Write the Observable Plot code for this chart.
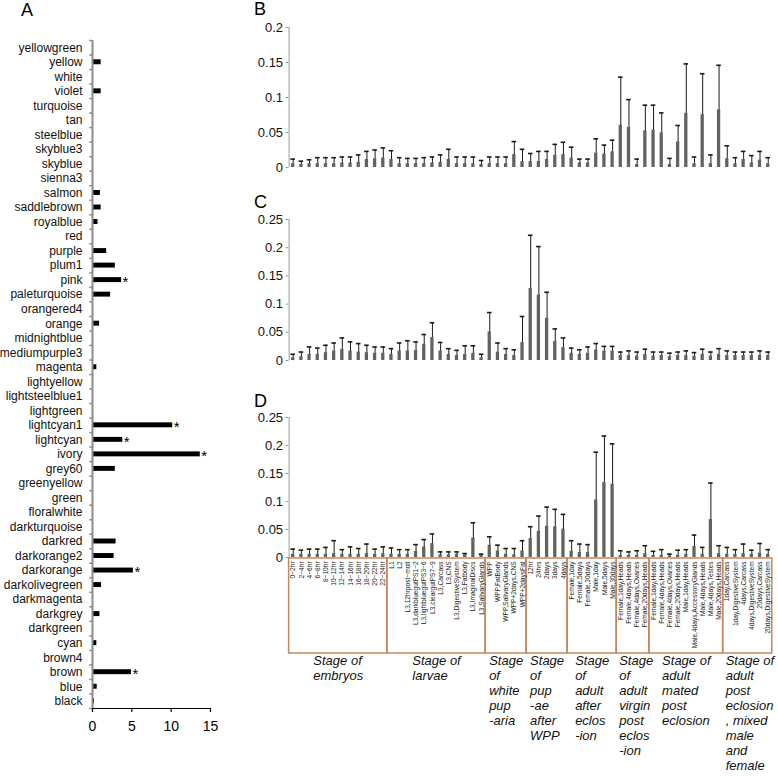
<!DOCTYPE html>
<html><head><meta charset="utf-8">
<script src="https://cdn.jsdelivr.net/npm/d3@7"></script>
<script src="https://cdn.jsdelivr.net/npm/@observablehq/plot@0.6"></script>
<style>
body{margin:0;background:#fff;font-family:"Liberation Sans",Arial,sans-serif;}
#wrap{position:relative;width:778px;height:776px;overflow:hidden;background:#fff;}
#wrap svg{position:absolute;}
.tag{position:absolute;font-size:18px;line-height:1;color:#000;}
</style></head><body><div id="wrap"></div>
<script>
// ---------- Panel A data ----------
const modules = ["yellowgreen","yellow","white","violet","turquoise","tan","steelblue","skyblue3","skyblue","sienna3","salmon","saddlebrown","royalblue","red","purple","plum1","pink","paleturquoise","orangered4","orange","midnightblue","mediumpurple3","magenta","lightyellow","lightsteelblue1","lightgreen","lightcyan1","lightcyan","ivory","grey60","greenyellow","green","floralwhite","darkturquoise","darkred","darkorange2","darkorange","darkolivegreen","darkmagenta","darkgrey","darkgreen","cyan","brown4","brown","blue","black"];
const moduleValues = [0,1.1,0,1.1,0,0,0,0,0,0,1.0,1.1,0.7,0,1.8,2.9,3.7,2.3,0,0.9,0,0,0.55,0,0,0,10.2,3.85,13.7,2.9,0,0,0,0,3.0,2.75,5.2,1.15,0,0.95,0,0.55,0,4.95,0.6,0.25];
const starredModules = ["pink","lightcyan1","lightcyan","ivory","darkorange","brown"];
const aTicks = [0,5,10,15];

// ---------- Panels B, C, D data ----------
const stageNames = ["Stage of\nembryos","Stage of\nlarvae","Stage\nof\nwhite\npup\n-aria","Stage\nof\npup\n-ae\nafter\nWPP","Stage\nof\nadult\nafter\neclos\n-ion","Stage\nof\nadult\nvirgin\npost\neclos\n-ion","Stage of\nadult\nmated\npost\neclosion","Stage of\nadult\npost\neclosion\n, mixed\nmale\nand\nfemale"];
const stageCounts = [12,12,5,5,6,4,9,6];
const sampleLabels = ["0~2hr","2~4hr","4~6hr","6~8hr","8~10hr","10~12hr","12~14hr","14~16hr","16~18hr","18~20hr","20~22hr","22~24hr",
 "L1","L2","L3,12hrpost~molt","L3,darkbluegutPS1~2","L3,lightbluegutPS3~6","L3,cleargutPS7~9","L3,Carcass","L3,CNS","L3,DigestiveSystem","L3,Fatbody","L3,ImaginalDiscs","L3,SalivaryGlands",
 "WPP","WPP,FatBody","WPP,SalivaryGlands","WPP+2days,CNS","WPP+2daysFat",
 "12hr","24hrs","2days","3days","4days",
 "Female,1day","Female,5days","Female,30days","Male,1day","Male,5days","Male,30days",
 "Female,1day,Heads","Female,4days,Heads","Female,4days,Ovaries","Female,20days,Heads",
 "Female,1day,Heads","Female,4days,Heads","Female,4days,Ovaries","Female,20days,Heads","Male,1day,Heads","Male,4days,AccessoryGlands","Male,4days,Heads","Male,4days,Testes","Male,20days,Heads",
 "1day,Carcass","1day,DigestiveSystem","4days,Carcass","4days,DigestiveSystem","20days,Carcass","20days,DigestiveSystem"];

const bMean  = [.004,.003,.004,.004,.004,.004,.005,.005,.006,.010,.011,.012,.010,.004,.004,.004,.004,.005,.006,.010,.004,.004,.004,.003,.004,.004,.004,.017,.007,.007,.007,.010,.016,.017,.012,.005,.005,.019,.018,.021,.059,.056,.003,.051,.052,.048,.003,.035,.076,.004,.074,.004,.081,.011,.004,.010,.005,.009,.004];
const bUpper = [.012,.009,.011,.014,.014,.014,.015,.015,.018,.023,.025,.028,.024,.014,.013,.013,.014,.015,.018,.026,.015,.015,.015,.010,.015,.015,.015,.037,.026,.020,.023,.023,.033,.036,.029,.012,.012,.041,.032,.039,.129,.097,.012,.089,.089,.078,.013,.060,.148,.015,.134,.018,.146,.031,.014,.023,.017,.023,.014];
const bTicks = [0,0.05,0.1,0.15,0.2];

const cMean  = [.003,.005,.009,.009,.012,.015,.018,.015,.013,.012,.011,.011,.009,.015,.015,.016,.027,.039,.015,.009,.007,.009,.011,.003,.049,.013,.009,.007,.030,.126,.114,.073,.032,.021,.011,.009,.011,.017,.015,.015,.007,.007,.006,.009,.006,.007,.005,.007,.007,.006,.009,.006,.009,.007,.007,.007,.007,.007,.007];
const cUpper = [.011,.015,.024,.022,.027,.031,.040,.033,.030,.027,.024,.024,.021,.031,.035,.033,.046,.067,.032,.021,.018,.026,.026,.011,.085,.031,.021,.019,.078,.222,.202,.121,.056,.040,.022,.019,.024,.030,.025,.025,.015,.017,.015,.020,.015,.015,.013,.015,.017,.014,.020,.015,.021,.017,.015,.015,.015,.017,.015];
const cTicks = [0,0.05,0.1,0.15,0.2,0.25];

const dMean  = [.004,.004,.004,.004,.004,.005,.004,.004,.004,.005,.004,.005,.004,.004,.004,.009,.017,.023,.003,.003,.004,.003,.033,.002,.020,.010,.004,.003,.010,.032,.045,.054,.053,.049,.009,.007,.007,.101,.132,.129,.002,.002,.002,.005,.002,.002,.001,.002,.004,.018,.004,.066,.005,.004,.004,.005,.004,.006,.004];
const dUpper = [.015,.013,.015,.015,.018,.030,.014,.019,.016,.024,.015,.019,.017,.014,.014,.023,.032,.042,.010,.010,.010,.007,.062,.006,.037,.022,.016,.016,.030,.055,.074,.090,.086,.077,.030,.024,.023,.188,.217,.203,.012,.010,.012,.021,.011,.014,.006,.013,.014,.040,.018,.133,.021,.018,.014,.024,.013,.025,.014];
const dTicks = [0,0.05,0.1,0.15,0.2,0.25];

// ---------- helpers ----------
const FONT = '"Liberation Sans", Arial, Helvetica, sans-serif';
const wrap = document.getElementById("wrap");
function place(el, left, top) { el.style.left = left + "px"; el.style.top = top + "px"; wrap.appendChild(el); return el; }
function tag(t, left, top) { const d = document.createElement("div"); d.className = "tag"; d.textContent = t; place(d, left, top); }

// ---------- Panel A ----------
{
  const n = modules.length;
  const idx = d3.range(n);
  const bounds = d3.range(n + 1).map(i => i - 0.5);
  const svg = Plot.plot({
    width: 230, height: 750, marginLeft: 92, marginRight: 20, marginTop: 40, marginBottom: 42,
    style: {fontFamily: FONT, fontSize: "12px", background: "transparent", overflow: "visible", color: "#000"},
    x: {domain: [0, 15], axis: null},
    y: {domain: [n - 0.5, -0.5], axis: null},
    marks: [
      Plot.rectX(idx, {x1: 0, x2: i => moduleValues[i], y1: i => i - 0.17, y2: i => i + 0.17, fill: "#000", insetLeft: 0.8}),
      Plot.ruleX([0], {y1: -0.5, y2: n - 0.5, stroke: "#8c8c8c", strokeWidth: 2}),
      Plot.ruleY(bounds, {x1: -0.35, x2: 0, stroke: "#8c8c8c", strokeWidth: 1.5}),
      Plot.text(idx, {x: 0, y: i => i, text: i => modules[i], textAnchor: "end", dx: -10, fontSize: 12, fill: "#111"}),
      Plot.text(starredModules, {x: m => moduleValues[modules.indexOf(m)], y: m => modules.indexOf(m), text: () => "*", textAnchor: "start", dx: 1, dy: 2, fontSize: 15}),
      Plot.ruleY([n - 0.5], {x1: 0, x2: 15, stroke: "#000", strokeWidth: 1.2}),
      Plot.axisX({ticks: aTicks, tickSize: 4, tickPadding: 9, fontSize: 14, stroke: "#000", strokeWidth: 1.2, anchor: "bottom"})
    ]
  });
  place(svg, 0, 0);
  tag("A", 21, 1);
}

// ---------- Panels B, C, D ----------
const PW = 548, ML = 58.6, MR = 6.2;
function barPanel(mean, upper, ticks, height, marginTop, marginBottom) {
  const n = mean.length;
  const idx = d3.range(n);
  const yMax = ticks[ticks.length - 1];
  return Plot.plot({
    width: PW, height, marginLeft: ML, marginRight: MR, marginTop, marginBottom,
    style: {fontFamily: FONT, fontSize: "13px", background: "transparent", overflow: "visible", color: "#000"},
    x: {domain: [-0.5, n - 0.5], axis: null},
    y: {domain: [0, yMax], axis: null},
    marks: [
      Plot.ruleX([-0.5], {y1: 0, y2: yMax, stroke: "#9a9a9a", strokeWidth: 1}),
      Plot.axisY({ticks, tickFormat: d => String(d), tickSize: 3, tickPadding: 3, stroke: "#9a9a9a", fill: "#111", fontSize: 13}),
      Plot.ruleX(idx, {x: i => i, y1: i => mean[i], y2: i => upper[i], stroke: "#1a1a1a", strokeWidth: 1}),
      Plot.ruleY(idx, {y: i => upper[i], x1: i => i - 0.28, x2: i => i + 0.28, stroke: "#1a1a1a", strokeWidth: 1.6}),
      Plot.rectY(idx, {x1: i => i - 0.2, x2: i => i + 0.2, y1: 0, y2: i => mean[i], fill: "#626262", insetTop: -1})
    ]
  });
}
place(barPanel(bMean, bUpper, bTicks, 175, 27, 8), 230, 0);
tag("B", 254, 0);
place(barPanel(cMean, cUpper, cTicks, 190, 39, 10), 230, 180);
tag("C", 254, 193);
place(barPanel(dMean, dUpper, dTicks, 185, 37, 8), 230, 380);
tag("D", 254, 392);

// ---------- Panel D sample / stage labels ----------
{
  const n = sampleLabels.length;
  const idx = d3.range(n);
  const starts = d3.cumsum([0, ...stageCounts]).slice(0, stageCounts.length);
  const groups = stageNames.map((label, k) => ({label, start: starts[k], end: starts[k] + stageCounts[k] - 1}));
  const pxPerIdx = (PW - ML - MR) / n;
  const ctx = document.createElement("canvas").getContext("2d");
  ctx.font = "italic 13px " + FONT;
  const blockLeft = g => {
    const w = d3.max(g.label.split("\n"), s => ctx.measureText(s).width);
    const groupW = (g.end - g.start + 1) * pxPerIdx;
    const off = Math.max(2.5, (groupW - w) / 2);
    return g.start - 0.5 + off / pxPerIdx;
  };
  const svg = Plot.plot({
    width: PW, height: 219, marginLeft: ML, marginRight: MR, marginTop: 0, marginBottom: 0,
    style: {fontFamily: FONT, fontSize: "7px", background: "transparent", overflow: "visible", color: "#000"},
    x: {domain: [-0.5, n - 0.5], axis: null},
    y: {domain: [0, 1], range: [1, 96], axis: null},
    marks: [
      Plot.rect(groups, {x1: g => g.start - 0.5, x2: g => g.end + 0.5, y1: 0, y2: 1, fill: "none", stroke: "#c8875b", strokeWidth: 1.5}),
      Plot.text(idx, {x: i => i, y: 0.03, text: i => sampleLabels[i], rotate: -90, textAnchor: "end", lineAnchor: "middle", fontSize: 6.6, fill: "#222"}),
      Plot.text(groups, {x: blockLeft, y: 1.01, text: g => g.label, textAnchor: "start", lineAnchor: "top", fontSize: 13, fontStyle: "italic", lineHeight: 1.15, fill: "#111"})
    ]
  });
  place(svg, 230, 557);
}
</script>
</body></html>
